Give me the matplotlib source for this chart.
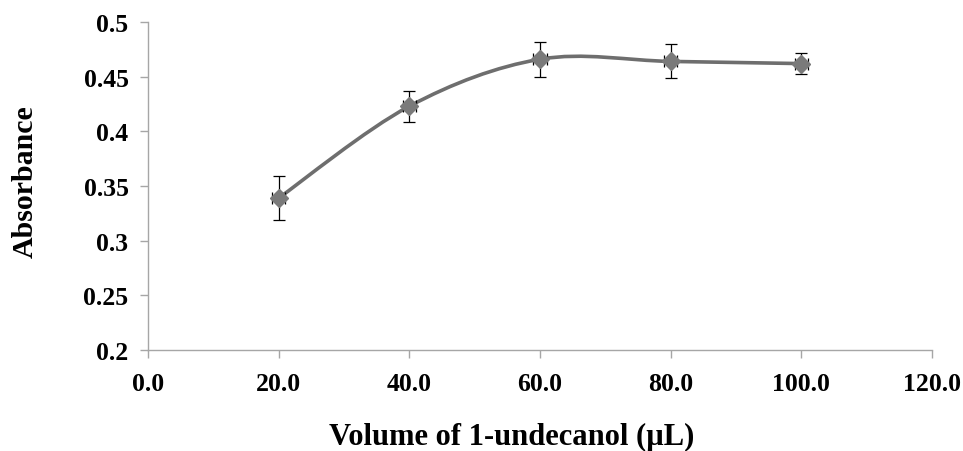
import numpy as np
import matplotlib
matplotlib.use("Agg")
import matplotlib.pyplot as plt
from matplotlib.path import Path
from matplotlib.patches import PathPatch

# data
volume = [20, 40, 60, 80, 100]
absorbance = [0.339, 0.423, 0.466, 0.464, 0.462]
abs_err = [0.020, 0.014, 0.016, 0.0155, 0.0095]
vol_err = [1.0, 1.0, 1.0, 1.0, 1.0]

x_ticks = [0, 20, 40, 60, 80, 100, 120]
y_ticks = [0.2, 0.25, 0.3, 0.35, 0.4, 0.45, 0.5]

line_color = '#6e6e6e'
marker_color = '#7a7a7a'
axis_color = '#a6a6a6'

plt.rcParams['font.family'] = ['Liberation Serif', 'DejaVu Serif']
plt.rcParams['font.weight'] = 'bold'


def smooth_path(xs, ys):
    """Excel-style smoothed line: cubic Bezier with Catmull-Rom tangents"""
    pts = np.column_stack([xs, ys]).astype(float)
    verts = [pts[0]]
    codes = [Path.MOVETO]
    n = len(pts)
    for i in range(n - 1):
        p0 = pts[i - 1] if i > 0 else pts[i]
        p1 = pts[i]
        p2 = pts[i + 1]
        p3 = pts[i + 2] if i + 2 < n else pts[i + 1]
        c1 = p1 + (p2 - p0) / 6.0
        c2 = p2 - (p3 - p1) / 6.0
        verts += [c1, c2, p2]
        codes += [Path.CURVE4] * 3
    return Path(verts, codes)


fig = plt.figure(figsize=(9.63, 4.52), dpi=100)
ax = fig.add_axes([0.1537, 0.2235, 0.8141, 0.7255])

ax.add_patch(PathPatch(smooth_path(volume, absorbance), facecolor='none',
                       edgecolor=line_color, linewidth=2.6, zorder=2))
ax.errorbar(volume, absorbance, yerr=abs_err, xerr=vol_err, fmt='none',
            ecolor='black', elinewidth=0.9, capsize=4, capthick=0.9, zorder=3)
ax.plot(volume, absorbance, linestyle='none', marker='D', markersize=9,
        color=marker_color, markeredgecolor=marker_color, zorder=4)

ax.set_xlim(0, 120)
ax.set_ylim(0.2, 0.5)
ax.set_xticks(x_ticks)
ax.set_xticklabels([f'{v:.1f}' for v in x_ticks])
ax.set_yticks(y_ticks)
ax.set_yticklabels([f'{v:g}' for v in y_ticks])

for side in ['top', 'right']:
    ax.spines[side].set_visible(False)
for side in ['left', 'bottom']:
    ax.spines[side].set_color(axis_color)
    ax.spines[side].set_linewidth(1.0)

ax.tick_params(axis='both', direction='out', length=6, width=1.0,
               color=axis_color, labelsize=18.5)
ax.tick_params(axis='x', pad=10)
ax.tick_params(axis='y', pad=8)
for lbl in ax.get_xticklabels() + ax.get_yticklabels():
    lbl.set_fontweight('bold')

ax.set_xlabel('Volume of 1-undecanol (µL)', fontsize=22, fontweight='bold',
              labelpad=19)
ax.xaxis.label.set_x(0.464)
ax.set_ylabel('Absorbance', fontsize=21.5, fontweight='bold', labelpad=32)
ax.yaxis.label.set_y(0.515)

fig.savefig('out.png', dpi=100)
